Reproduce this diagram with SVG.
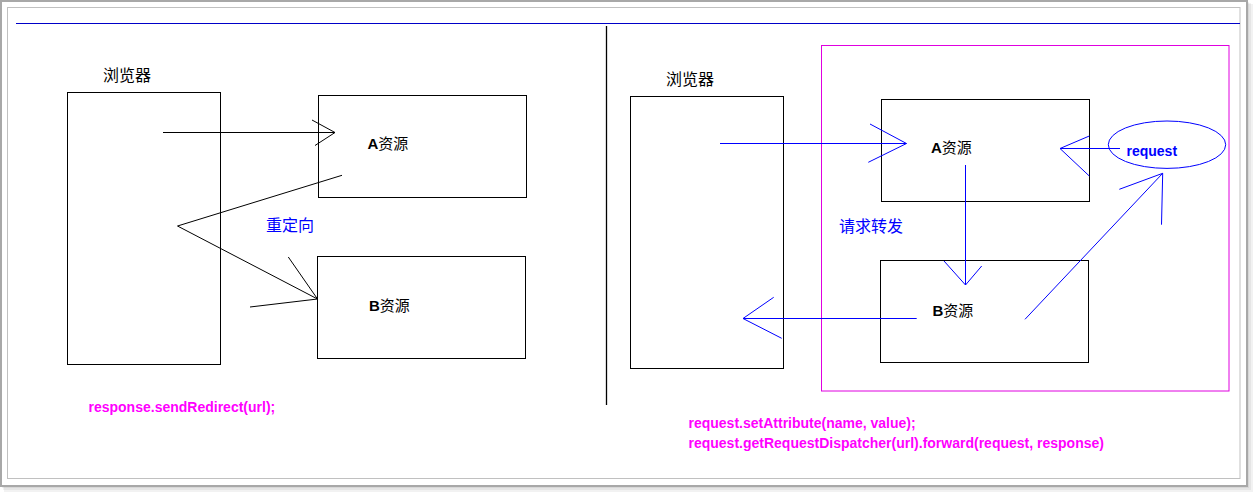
<svg xmlns="http://www.w3.org/2000/svg" width="1253" height="492" viewBox="0 0 1253 492">
<style>
.box{fill:none;stroke:#000;stroke-width:1}
.lk{fill:none;stroke:#000;stroke-width:1}
.lb{fill:none;stroke:#0000ff;stroke-width:1}
.cjk{font-family:"Noto Sans CJK SC","Liberation Sans",sans-serif;font-size:16px}
.lbl{font-family:"Liberation Sans","Noto Sans CJK SC",sans-serif;font-size:15px;fill:#000}
.lbl .a{font-weight:bold}
.code{font-family:"Liberation Sans",Arial,sans-serif;font-size:14px;font-weight:bold;fill:#ff00ff}
</style>
<rect width="1253" height="492" fill="#fff"/>
<g id="frame">
<rect x="4" y="4" width="1249" height="488" fill="#000" opacity="0.05"/>
<rect x="3" y="3" width="1248" height="487" fill="#000" opacity="0.05"/>
<rect x="2" y="2" width="1247" height="486" fill="#000" opacity="0.06"/>
<rect x="1" y="1" width="1246" height="485" fill="#fff" stroke="#a8a8a8" stroke-width="2"/>
<rect x="7.5" y="7.5" width="1232.5" height="471" fill="#fff" stroke="#c0c0c0" stroke-width="1"/>
<line x1="16" y1="23.5" x2="1240" y2="23.5" stroke="#0000c8" stroke-width="1"/>
<line x1="606.5" y1="26" x2="606.5" y2="405" stroke="#000" stroke-width="1.3"/>
<rect x="821.5" y="45.5" width="407.5" height="345.5" fill="none" stroke="#e000e0" stroke-width="1"/>
</g>
<g id="browser-left">
<rect class="box" x="67.5" y="92.5" width="153" height="272"/>
<text class="cjk" x="103" y="81" fill="#000">浏览器</text>
</g>
<g id="a-left">
<rect class="box" x="318.5" y="95.5" width="208" height="102"/>
<text class="lbl" x="367.5" y="148.5"><tspan class="a">A</tspan>资源</text>
</g>
<g id="b-left">
<rect class="box" x="317.5" y="256.5" width="208" height="102"/>
<text class="lbl" x="369" y="310.5"><tspan class="a">B</tspan>资源</text>
</g>
<g id="browser-right">
<rect class="box" x="630.5" y="96.5" width="153" height="272"/>
<text class="cjk" x="666" y="85" fill="#000">浏览器</text>
</g>
<g id="a-right">
<rect class="box" x="881.5" y="99.5" width="208" height="102"/>
<text class="lbl" x="931" y="152.5"><tspan class="a">A</tspan>资源</text>
</g>
<g id="b-right">
<rect class="box" x="880.5" y="260.5" width="208" height="102"/>
<text class="lbl" x="932.5" y="316"><tspan class="a">B</tspan>资源</text>
</g>
<g id="request">
<ellipse cx="1167" cy="144.7" rx="58.7" ry="23.7" fill="none" stroke="#0000ff" stroke-width="1"/>
<text x="1126.5" y="155.5" font-family="Liberation Sans, Arial, sans-serif" font-size="14" font-weight="bold" fill="#0000ff">request</text>
</g>
<g id="connectors">
<line class="lk" x1="163" y1="132.5" x2="335" y2="132.5"/>
<path class="lk" d="M312,120 L335,132.5 L315,145.5"/>
<path class="lk" d="M342,175.3 L177.5,226 L317.5,299"/>
<path class="lk" d="M288.3,257 L317.5,299 L250,307"/>
<line class="lb" x1="720" y1="143.5" x2="906.5" y2="143.5"/>
<path class="lb" d="M870,124 L906.5,143.5 L868.3,162.3"/>
<line class="lb" x1="965.5" y1="165" x2="965.5" y2="285"/>
<path class="lb" d="M944,261 L965.5,285 L981.7,266"/>
<line class="lb" x1="916.7" y1="318.5" x2="743" y2="318.5"/>
<path class="lb" d="M773.7,297.3 L743,318.5 L781.7,338.3"/>
<line class="lb" x1="1120" y1="148.5" x2="1060" y2="148.5"/>
<path class="lb" d="M1089.3,136 L1060,148.5 L1089.3,176"/>
<line class="lb" x1="1025" y1="319.3" x2="1162.7" y2="173.3"/>
<path class="lb" d="M1119.3,189.3 L1162.7,173.3 L1161.5,224.7"/>
</g>
<g id="labels">
<text class="cjk" x="266" y="231" fill="#0000ff">重定向</text>
<text class="cjk" x="839" y="231.5" fill="#0000ff">请求转发</text>
<text class="code" x="88.5" y="411.5">response.sendRedirect(url);</text>
<text class="code" x="688.5" y="427.5">request.setAttribute(name, value);</text>
<text class="code" x="688.5" y="447.5">request.getRequestDispatcher(url).forward(request, response)</text>
</g>
</svg>
